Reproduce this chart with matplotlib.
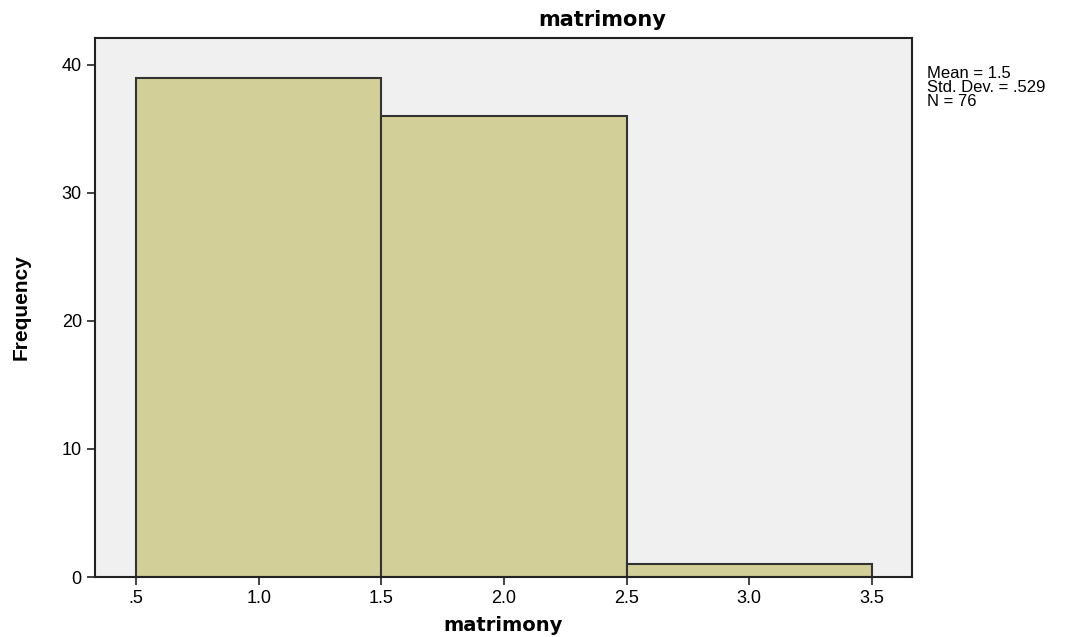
import numpy as np
import matplotlib
matplotlib.use("Agg")
import matplotlib.pyplot as plt

# Datos del histograma
bin_edges = [0.5, 1.5, 2.5, 3.5]
counts = [39, 36, 1]
xticks = [0.5, 1.0, 1.5, 2.0, 2.5, 3.0, 3.5]
xtick_labels = [".5", "1.0", "1.5", "2.0", "2.5", "3.0", "3.5"]
yticks = [0, 10, 20, 30, 40]
stats_text = "Mean = 1.5\nStd. Dev. = .529\nN = 76"

plt.rcParams['font.family'] = ['Liberation Sans', 'DejaVu Sans']

fig = plt.figure(figsize=(10.82, 6.37), dpi=100)
ax = fig.add_axes([95 / 1082, 60 / 637, 817 / 1082, 539 / 637])
ax.set_facecolor("#F0F0F0")

centers = [(bin_edges[i] + bin_edges[i + 1]) / 2 for i in range(len(counts))]
widths = [bin_edges[i + 1] - bin_edges[i] for i in range(len(counts))]
ax.bar(centers, counts, width=widths, color="#D3CF98", edgecolor="#333333", linewidth=1.5)

ax.set_xlim(0.333, 3.663)
ax.set_ylim(0, 42.1)
ax.set_xticks(xticks)
ax.set_xticklabels(xtick_labels, fontsize=13)
ax.set_yticks(yticks)
ax.set_yticklabels([str(v) for v in yticks], fontsize=13)
ax.tick_params(axis="both", direction="out", length=6, width=1.2, color="#222222")
for s in ax.spines.values():
    s.set_linewidth(1.5)
    s.set_color("#222222")

ax.set_xlabel("matrimony", fontsize=14, fontweight="bold", labelpad=6,
              family=['DejaVu Sans'])
ax.set_ylabel("Frequency", fontsize=15, fontweight="bold", labelpad=22)

fig.text(602 / 1082, 1 - 20 / 637, "matrimony", ha="center", va="center",
         fontsize=15, fontweight="bold", family=['DejaVu Sans'])
fig.text(927 / 1082, 1 - 66 / 637, stats_text, ha="left", va="top",
         fontsize=12, linespacing=0.9)

fig.savefig("out.png", dpi=100)
